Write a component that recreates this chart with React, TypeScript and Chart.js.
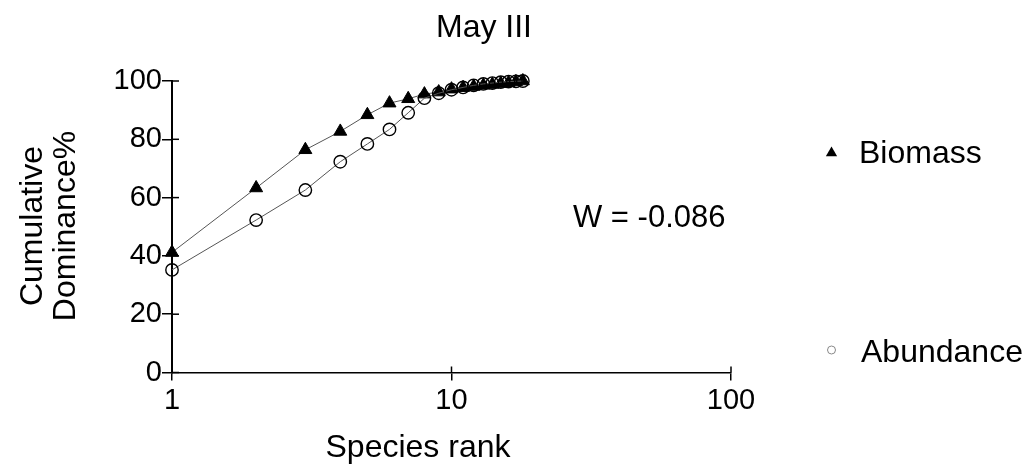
import React, { useEffect, useRef } from 'react';
import { Chart, registerables } from 'chart.js';

Chart.register(...registerables);

const FONT = '"Liberation Sans", Arial, Helvetica, sans-serif';

const chartTitle = 'May III';
const xAxisTitle = 'Species rank';
const yAxisTitle = ['Cumulative', 'Dominance%'];
const annotationText = 'W = -0.086';
const seriesLabels = ['Biomass', 'Abundance'];

const ranks = [1, 2, 3, 4, 5, 6, 7, 8, 9, 10, 11, 12, 13, 14, 15, 16, 17, 18];
const biomass = [41.2, 63.3, 76.4, 82.7, 88.4, 92.4, 93.9, 95.5, 96.2, 97.2, 97.7, 98.1, 98.5, 98.8, 99.1, 99.4, 99.7, 100];
const abundance = [35.2, 52.3, 62.6, 72.3, 78.4, 83.4, 89.1, 94.1, 95.8, 97.0, 97.8, 98.5, 99.0, 99.3, 99.6, 99.8, 99.9, 100];

const xTickValues = [1, 10, 100];
const yTickValues = [0, 20, 40, 60, 80, 100];

const W = 1029;
const H = 476;

export default function App() {
  const canvasRef = useRef<HTMLCanvasElement | null>(null);

  useEffect(() => {
    const canvas = canvasRef.current;
    if (!canvas) return;

    const innerTicks = {
      id: 'innerTicks',
      beforeDatasetsDraw(chart: any) {
        const ctx = chart.ctx;
        const xs = chart.scales.x;
        const ys = chart.scales.y;
        const area = chart.chartArea;
        ctx.save();
        ctx.strokeStyle = '#000';
        ctx.lineWidth = 1.5;
        ys.ticks.forEach((t: any) => {
          const py = ys.getPixelForValue(t.value);
          ctx.beginPath();
          ctx.moveTo(area.left, py);
          ctx.lineTo(area.left + 7, py);
          ctx.stroke();
        });
        xs.ticks.forEach((t: any) => {
          const px = xs.getPixelForValue(t.value);
          ctx.beginPath();
          ctx.moveTo(px, area.bottom);
          ctx.lineTo(px, area.bottom - 6);
          ctx.stroke();
        });
        ctx.restore();
      },
    };

    const texts = {
      id: 'texts',
      afterDraw(chart: any) {
        const ctx = chart.ctx;
        ctx.save();
        ctx.fillStyle = '#000';
        ctx.font = `32px ${FONT}`;
        ctx.textAlign = 'center';
        ctx.textBaseline = 'alphabetic';
        ctx.fillText(chartTitle, 484, 37);
        ctx.fillText(xAxisTitle, 418, 457);
        ctx.save();
        ctx.translate(0, 226);
        ctx.rotate(-Math.PI / 2);
        ctx.textAlign = 'center';
        ctx.fillText(yAxisTitle[0], 0, 42);
        ctx.fillText(yAxisTitle[1], 0, 75);
        ctx.restore();
        ctx.font = `31px ${FONT}`;
        ctx.textAlign = 'left';
        ctx.fillText(annotationText, 573, 227);
        const ds = chart.data.datasets;
        ctx.font = `32px ${FONT}`;
        const tx = 831.5, ty = 153, tr = 6.5;
        ctx.beginPath();
        ctx.moveTo(tx, ty - tr);
        ctx.lineTo(tx + tr * 0.866, ty + tr * 0.5);
        ctx.lineTo(tx - tr * 0.866, ty + tr * 0.5);
        ctx.closePath();
        ctx.fill();
        ctx.fillText(ds[0].label, 859, 163);
        ctx.beginPath();
        ctx.arc(831.5, 350, 4, 0, Math.PI * 2);
        ctx.strokeStyle = '#888';
        ctx.lineWidth = 1;
        ctx.stroke();
        ctx.fillText(ds[1].label, 861, 362);
        ctx.restore();
      },
    };

    const chart = new Chart(canvas, {
      type: 'line',
      data: {
        datasets: [
          {
            label: seriesLabels[0],
            data: ranks.map((r, i) => ({ x: r, y: biomass[i] })),
            borderColor: '#555',
            borderWidth: 1,
            pointStyle: 'triangle',
            pointRadius: 7.5,
            pointBackgroundColor: '#000',
            pointBorderColor: '#000',
            pointBorderWidth: 1,
            tension: 0,
            clip: false,
            order: 1,
          },
          {
            label: seriesLabels[1],
            data: ranks.map((r, i) => ({ x: r, y: abundance[i] })),
            borderColor: '#555',
            borderWidth: 1,
            pointStyle: 'circle',
            pointRadius: 6.2,
            pointBackgroundColor: 'rgba(0,0,0,0)',
            pointBorderColor: '#000',
            pointBorderWidth: 1.4,
            tension: 0,
            clip: false,
            order: 0,
          },
        ],
      },
      options: {
        responsive: false,
        animation: false,
        devicePixelRatio: 1,
        layout: { padding: { top: 81, right: 298, bottom: 0, left: 0 } },
        plugins: {
          legend: { display: false },
          tooltip: { enabled: false },
          title: { display: false },
        },
        scales: {
          x: {
            type: 'logarithmic',
            min: 1,
            max: 100,
            afterBuildTicks: (s: any) => {
              s.ticks = xTickValues.map((v) => ({ value: v }));
            },
            afterFit: (s: any) => {
              s.height = H - 372.5;
            },
            ticks: {
              autoSkip: false,
              maxRotation: 0,
              padding: 3,
              color: '#000',
              font: { family: FONT, size: 29 },
              callback: (v: any) => String(v),
            },
            grid: {
              display: true,
              drawOnChartArea: false,
              drawTicks: true,
              tickLength: 8,
              color: '#000',
              lineWidth: 1.5,
            },
            border: { display: true, color: '#000', width: 1.5 },
          },
          y: {
            type: 'linear',
            min: 0,
            max: 100,
            afterBuildTicks: (s: any) => {
              s.ticks = yTickValues.map((v) => ({ value: v }));
            },
            afterFit: (s: any) => {
              s.width = 172;
            },
            ticks: {
              padding: 0,
              color: '#000',
              font: { family: FONT, size: 29 },
              callback: (v: any) => String(v),
            },
            grid: {
              display: true,
              drawOnChartArea: false,
              drawTicks: true,
              tickLength: 10,
              color: '#000',
              lineWidth: 1.5,
            },
            border: { display: true, color: '#000', width: 2 },
          },
        },
      },
      plugins: [innerTicks, texts],
    });

    return () => chart.destroy();
  }, []);

  return (
    <div style={{ position: 'fixed', left: 0, top: 0, width: W, height: H, background: '#fff' }}>
      <canvas ref={canvasRef} width={W} height={H} style={{ width: W, height: H, display: 'block' }} />
    </div>
  );
}
